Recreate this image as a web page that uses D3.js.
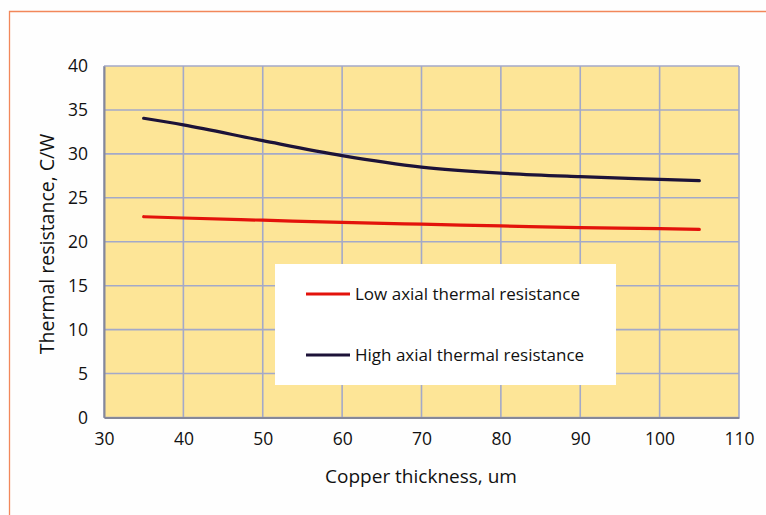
<!DOCTYPE html>
<html><head><meta charset="utf-8">
<script src="https://cdn.jsdelivr.net/npm/d3@7"></script>
<style>
html,body{margin:0;padding:0;background:#fefefe;}
svg{display:block;}
text{font-family:"Open Sans",sans-serif;fill:#111;}
</style></head>
<body>
<svg id="chart" width="766" height="515"></svg>
<script>
const thickness = [35, 40, 50, 60, 70, 80, 90, 100, 105];
const lowAxial  = [22.85, 22.7, 22.45, 22.2, 22.0, 21.8, 21.6, 21.5, 21.4];
const highAxial = [34.05, 33.3, 31.5, 29.8, 28.5, 27.8, 27.4, 27.1, 26.95];
const xTicks = [30, 40, 50, 60, 70, 80, 90, 100, 110];
const yTicks = [0, 5, 10, 15, 20, 25, 30, 35, 40];
const seriesNames = ["Low axial thermal resistance", "High axial thermal resistance"];
const seriesColors = ["#e3120b", "#1c1238"];

const svg = d3.select("#chart");
const m = {left:104, top:66, right:739, bottom:417.5};
const x = d3.scaleLinear().domain([30,110]).range([m.left, m.right]);
const y = d3.scaleLinear().domain([0,40]).range([m.bottom, m.top]);

// outer frame
svg.append("path").attr("d","M9.5,520 V11.5 H770").attr("fill","none")
  .attr("stroke","#f2875a").attr("stroke-width",1.3);

// plot background
svg.append("rect").attr("x",m.left).attr("y",m.top)
  .attr("width",m.right-m.left).attr("height",m.bottom-m.top).attr("fill","#fde597");

// grid
const grid = svg.append("g");
grid.selectAll("line.v").data(xTicks).join("line")
  .attr("x1",d=>x(d)).attr("x2",d=>x(d)).attr("y1",m.top).attr("y2",m.bottom)
  .attr("stroke","#a3a9c9").attr("stroke-width",1.6);
grid.selectAll("line.h").data(yTicks).join("line")
  .attr("x1",m.left).attr("x2",m.right).attr("y1",d=>y(d)).attr("y2",d=>y(d))
  .attr("stroke","#a3a9c9").attr("stroke-width",1.6);

// axes
const xAxis = svg.append("g").attr("transform",`translate(0,${m.bottom})`)
  .call(d3.axisBottom(x).tickValues(xTicks).tickSize(0).tickPadding(15));
xAxis.select(".domain").attr("stroke","#85889a").attr("stroke-width",2);
xAxis.selectAll("text").attr("font-size",17.5).attr("font-family","Open Sans").attr("fill","#111");

const yAxis = svg.append("g").attr("transform",`translate(${m.left},0)`)
  .call(d3.axisLeft(y).tickValues(yTicks).tickSize(0).tickPadding(16));
yAxis.select(".domain").attr("stroke","#85889a").attr("stroke-width",2);
yAxis.selectAll("text").attr("font-size",17.5).attr("font-family","Open Sans").attr("fill","#111");

// lines
const line = d3.line().x((d,i)=>x(thickness[i])).y(d=>y(d)).curve(d3.curveMonotoneX);
[lowAxial, highAxial].forEach((s,k)=>{
  svg.append("path").datum(s).attr("d",line).attr("fill","none")
    .attr("stroke",seriesColors[k]).attr("stroke-width",3.2).attr("stroke-linecap","round");
});

// legend
const lg = svg.append("g");
lg.append("rect").attr("x",275).attr("y",264).attr("width",341).attr("height",121).attr("fill","#ffffff");
const ly = [294, 355];
seriesNames.forEach((n,k)=>{
  lg.append("line").attr("x1",306).attr("x2",350).attr("y1",ly[k]).attr("y2",ly[k])
    .attr("stroke",seriesColors[k]).attr("stroke-width",3.2);
  lg.append("text").attr("x",355).attr("y",ly[k]).attr("dy","0.35em")
    .attr("font-size",17).text(n);
});

// axis titles
svg.append("text").attr("x",421).attr("y",476).attr("dy","0.35em").attr("text-anchor","middle")
  .attr("font-size",19).text("Copper thickness, um");
svg.append("text").attr("transform","translate(47,244) rotate(-90)").attr("dy","0.35em")
  .attr("text-anchor","middle").attr("font-size",19.5).text("Thermal resistance, C/W");
</script>
</body></html>
